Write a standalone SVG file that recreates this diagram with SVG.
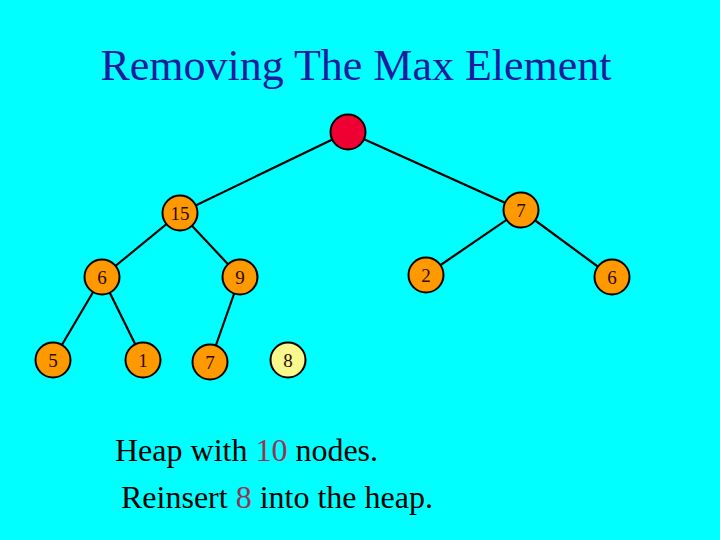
<svg xmlns="http://www.w3.org/2000/svg" width="720" height="540" viewBox="0 0 720 540">
<style>
.n{fill:#ff9900;stroke:#000;stroke-width:2}
.t{font-family:"Liberation Serif","Times New Roman",serif;font-size:19px;fill:#2a0a0a;text-anchor:middle}
.e{stroke:#000;stroke-width:2.2;fill:none}
.body{font-family:"Liberation Serif","Times New Roman",serif;font-size:32px;fill:#000}
.hl{fill:#993355}
</style>
<rect width="720" height="540" fill="#00ffff"/>
<text x="356" y="80" font-family="Liberation Serif, Times New Roman, serif" font-size="44" fill="#1c1c9c" text-anchor="middle">Removing The Max Element</text>
<g id="connectors">
<line class="e" x1="348" y1="132" x2="180" y2="213"/>
<line class="e" x1="348" y1="132" x2="521" y2="210"/>
<line class="e" x1="180" y1="213" x2="102" y2="277"/>
<line class="e" x1="180" y1="213" x2="240" y2="277"/>
<line class="e" x1="521" y1="210" x2="426" y2="275"/>
<line class="e" x1="521" y1="210" x2="612" y2="277"/>
<line class="e" x1="102" y1="277" x2="53" y2="360"/>
<line class="e" x1="102" y1="277" x2="143" y2="360"/>
<line class="e" x1="240" y1="277" x2="210" y2="362"/>
</g>
<g id="root"><circle cx="348" cy="132" r="17.5" fill="#ee0033" stroke="#000" stroke-width="2"/></g>
<g id="n15"><circle class="n" cx="180" cy="213" r="17.5"/><text class="t" x="180" y="220">15</text></g>
<g id="n7a"><circle class="n" cx="521" cy="210" r="17.5"/><text class="t" x="521" y="217">7</text></g>
<g id="n6a"><circle class="n" cx="102" cy="277" r="17.5"/><text class="t" x="102" y="284">6</text></g>
<g id="n9"><circle class="n" cx="240" cy="277" r="17.5"/><text class="t" x="240" y="284">9</text></g>
<g id="n2"><circle class="n" cx="426" cy="275" r="17.5"/><text class="t" x="426" y="282">2</text></g>
<g id="n6b"><circle class="n" cx="612" cy="277" r="17.5"/><text class="t" x="612" y="284">6</text></g>
<g id="n5"><circle class="n" cx="53" cy="360" r="17.5"/><text class="t" x="53" y="367">5</text></g>
<g id="n1"><circle class="n" cx="143" cy="360" r="17.5"/><text class="t" x="143" y="367">1</text></g>
<g id="n7b"><circle class="n" cx="210" cy="362" r="17.5"/><text class="t" x="210" y="369">7</text></g>
<g id="n8"><circle cx="288" cy="360" r="17.5" fill="#f8f88c" stroke="#000" stroke-width="2"/><text class="t" x="288" y="367">8</text></g>
<text class="body" x="115" y="461">Heap with <tspan class="hl">10</tspan> nodes.</text>
<text class="body" x="121" y="508">Reinsert <tspan class="hl">8</tspan> into the heap.</text>
</svg>
